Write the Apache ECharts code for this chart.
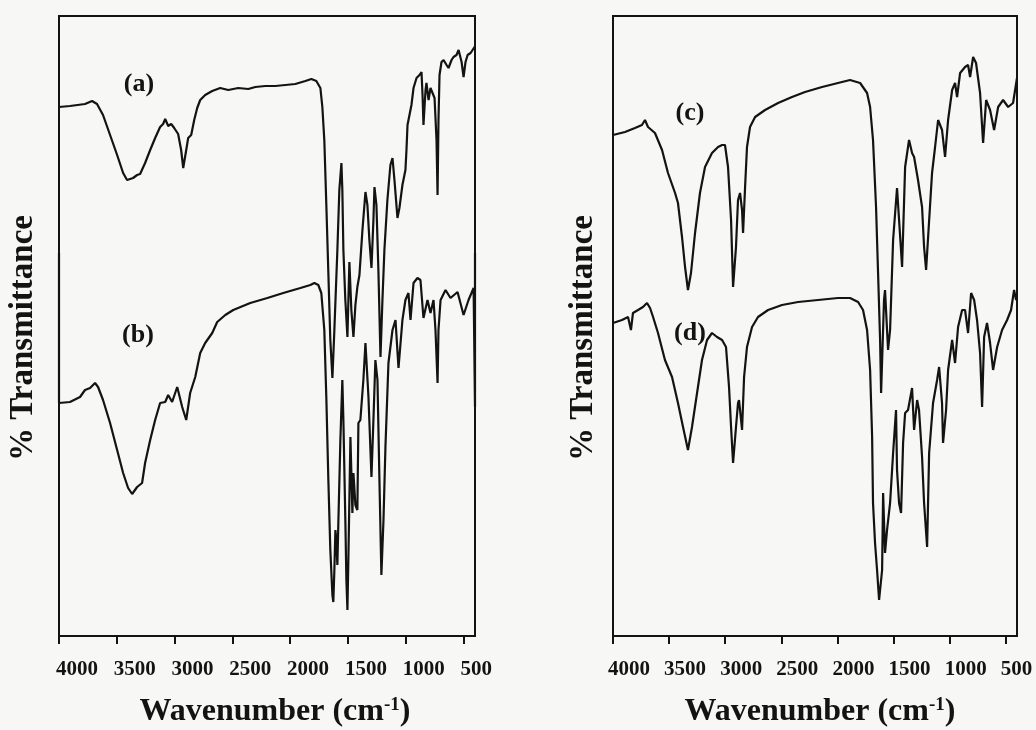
<!DOCTYPE html>
<html>
<head>
<meta charset="utf-8">
<title>FTIR spectra</title>
<script src="https://cdn.jsdelivr.net/npm/echarts@6/dist/echarts.min.js"></script>
<style>
  html, body { margin: 0; padding: 0; background: #f7f7f5; }
  #chart { width: 1036px; height: 730px; }
</style>
</head>
<body>
<div id="chart"></div>
<script>
// Tick positions on the wavenumber axis (cm-1)
const tickValues = [4000, 3500, 3000, 2500, 2000, 1500, 1000, 500];

// Spectra as [wavenumber (cm-1), transmittance (arbitrary units, offset per trace)]
const spectrumA = [
  [4000,529],[3905,530],[3775,532],[3714,535],[3671,532],[3619,521],[3558,501],[3497,481],[3445,463],[3411,456],
  [3359,458],[3324,461],[3298,462],[3255,473],[3211,486],[3168,498],[3125,509],[3099,512],[3081,517],[3055,510],
  [3029,512],[3003,508],[2969,502],[2943,486],[2925,468],[2899,486],[2882,498],[2856,501],[2830,516],[2804,528],
  [2778,536],[2735,541],[2674,545],[2605,548],[2535,546],[2449,548],[2362,547],[2301,549],[2215,550],[2128,550],
  [2041,551],[1955,552],[1868,555],[1816,557],[1773,555],[1738,548],[1721,529],[1704,496],[1686,429],[1669,363],
  [1652,296],[1634,258],[1617,306],[1591,386],[1574,446],[1556,473],[1548,446],[1539,386],[1522,336],[1504,299],
  [1487,374],[1470,326],[1452,299],[1435,331],[1418,349],[1400,361],[1374,406],[1348,444],[1331,431],[1314,396],
  [1296,368],[1279,416],[1270,449],[1253,431],[1236,366],[1218,279],[1201,336],[1184,386],[1158,436],[1132,471],
  [1114,478],[1097,456],[1071,418],[1054,428],[1028,451],[1002,466],[993,486],[984,511],[967,513],[950,531],
  [932,548],[906,558],[880,561],[863,564],[854,541],[846,511],[828,546],[820,553],[802,536],[785,548],
  [768,546],[750,538],[733,496],[724,441],[716,516],[707,561],[690,574],[672,576],[646,571],[629,568],
  [603,576],[586,579],[560,581],[542,586],[516,574],[499,559],[482,574],[464,581],[438,583],[421,586],
  [404,589],[400,590]
];

const spectrumB = [
  [4000,383],[4000,233],[3905,234],[3818,239],[3775,246],[3731,248],[3688,253],[3662,249],[3619,236],[3558,213],
  [3497,186],[3445,163],[3402,148],[3367,142],[3324,149],[3281,153],[3255,173],[3211,196],[3168,216],[3125,233],
  [3081,234],[3055,241],[3021,234],[2977,249],[2934,229],[2899,216],[2865,243],[2821,259],[2778,283],[2735,293],
  [2674,303],[2631,314],[2561,321],[2492,326],[2345,333],[2197,338],[2059,343],[1911,348],[1825,351],[1790,353],
  [1756,351],[1730,343],[1704,306],[1686,236],[1669,156],[1652,86],[1634,41],[1626,34],[1617,66],[1608,106],
  [1600,96],[1591,71],[1582,116],[1565,196],[1548,256],[1539,216],[1522,116],[1513,56],[1504,26],[1496,76],
  [1478,199],[1461,123],[1452,163],[1435,131],[1418,126],[1409,213],[1392,216],[1366,256],[1348,293],[1322,239],
  [1296,159],[1279,216],[1262,276],[1244,256],[1227,156],[1210,61],[1192,116],[1175,189],[1149,273],[1114,306],
  [1088,316],[1062,268],[1028,316],[1002,336],[976,343],[958,316],[932,353],[898,358],[872,356],[846,318],
  [811,336],[785,323],[759,336],[742,306],[724,253],[716,306],[698,336],[655,346],[612,338],[551,344],
  [499,321],[456,336],[412,348],[400,350],[400,229],[400,383]
];

const spectrumC = [
  [4000,501],[3893,504],[3804,508],[3742,511],[3715,516],[3688,509],[3626,503],[3563,486],[3510,463],[3447,443],
  [3421,433],[3385,399],[3358,369],[3332,346],[3305,363],[3269,403],[3225,443],[3180,469],[3118,483],[3064,489],
  [3028,491],[3002,491],[2975,469],[2948,416],[2930,349],[2904,389],[2886,436],[2868,443],[2850,426],[2841,403],
  [2823,449],[2806,489],[2779,509],[2734,519],[2645,526],[2529,533],[2405,539],[2289,544],[2137,549],[1995,553],
  [1888,556],[1798,553],[1736,543],[1709,529],[1683,496],[1656,429],[1638,363],[1620,296],[1611,243],[1585,336],
  [1576,346],[1549,286],[1531,306],[1504,396],[1469,448],[1424,369],[1397,469],[1362,496],[1335,483],[1317,479],
  [1282,456],[1246,429],[1228,389],[1210,366],[1192,399],[1157,463],[1130,489],[1103,516],[1068,506],[1041,479],
  [1014,516],[978,546],[952,553],[934,539],[907,563],[863,569],[836,571],[818,559],[791,579],[765,573],
  [729,543],[702,493],[675,536],[640,526],[604,506],[568,529],[524,536],[479,529],[435,533],[400,558]
];

const spectrumD = [
  [4000,313],[3920,316],[3866,319],[3840,306],[3822,323],[3777,326],[3733,329],[3697,333],[3670,328],[3643,319],
  [3599,303],[3537,276],[3474,259],[3421,233],[3376,209],[3332,186],[3296,209],[3251,243],[3207,276],[3162,296],
  [3118,303],[3073,299],[3028,296],[2993,289],[2966,249],[2948,209],[2930,173],[2904,209],[2886,233],[2877,236],
  [2850,206],[2832,259],[2806,289],[2761,309],[2708,319],[2618,326],[2494,331],[2351,334],[2173,336],[1995,338],
  [1888,338],[1816,334],[1772,326],[1736,306],[1709,266],[1691,199],[1683,133],[1665,93],[1647,66],[1629,36],
  [1602,66],[1593,143],[1576,83],[1558,106],[1531,133],[1504,183],[1478,226],[1469,166],[1451,133],[1433,123],
  [1415,193],[1397,223],[1371,226],[1335,248],[1317,206],[1290,236],[1273,226],[1246,179],[1228,133],[1201,89],
  [1183,183],[1148,233],[1112,256],[1094,269],[1068,233],[1059,193],[1032,226],[1014,266],[978,296],[952,273],
  [925,309],[889,326],[863,326],[836,303],[809,343],[782,336],[756,316],[729,283],[711,229],[693,299],
  [667,313],[640,293],[613,266],[577,289],[533,306],[488,316],[453,326],[426,346],[408,336],[400,338]
];

const panelLabels = ['(a)', '(b)', '(c)', '(d)'];
const xTitle = 'Wavenumber (cm{sup|-1})';
const yTitle = '% Transmittance';

const serif = '"Liberation Serif", "Times New Roman", serif';
const ink = '#131313';

// Tick labels start a few pixels left of their tick: a narrow centred box with left-aligned text
function xAxisFor(gridIndex, titleShift, labelLead) {
  return {
    gridIndex: gridIndex,
    type: 'value',
    inverse: true,
    min: 400,
    max: 4000,
    axisLine: { show: true, onZero: false, lineStyle: { color: ink, width: 2 } },
    axisTick: { show: true, inside: false, length: 8, customValues: tickValues,
                lineStyle: { color: ink, width: 2 } },
    axisLabel: { show: true, customValues: tickValues, margin: 23, align: 'center',
                 color: ink, fontFamily: serif, fontWeight: 'bold', fontSize: 21,
                 formatter: function (v) { return '{t|' + v + '}'; },
                 rich: { t: { width: labelLead * 2, align: 'left', color: ink, fontFamily: serif,
                              fontWeight: 'bold', fontSize: 21 } } },
    splitLine: { show: false },
    name: xTitle,
    nameLocation: 'middle',
    nameGap: 60,
    nameTextStyle: {
      color: ink, fontFamily: serif, fontWeight: 'bold', fontSize: 32,
      padding: [0, 0, 0, titleShift],
      rich: { sup: { color: ink, fontFamily: serif, fontWeight: 'bold', fontSize: 19, verticalAlign: 'top' } }
    }
  };
}

function yAxisFor(gridIndex, gap) {
  return {
    gridIndex: gridIndex,
    type: 'value',
    min: 0,
    max: 620,
    axisLine: { show: false },
    axisTick: { show: false },
    axisLabel: { show: false },
    splitLine: { show: false },
    name: yTitle,
    nameLocation: 'middle',
    nameRotate: 90,
    nameGap: gap,
    nameTextStyle: { color: ink, fontFamily: serif, fontWeight: 'bold', fontSize: 33, padding: [0, 24, 0, 0] }
  };
}

function trace(data, panel) {
  return {
    type: 'line',
    xAxisIndex: panel,
    yAxisIndex: panel,
    data: data,
    symbol: 'none',
    showSymbol: false,
    lineStyle: { color: ink, width: 2.2 },
    emphasis: { disabled: true },
    silent: true
  };
}

function label(text, x, y) {
  return {
    type: 'text', x: x, y: y,
    style: { text: text, fill: ink, font: 'bold 26px ' + serif, textAlign: 'center', textVerticalAlign: 'middle' }
  };
}

const panelGrid = { show: true, borderColor: ink, borderWidth: 2, backgroundColor: 'transparent',
                    containLabel: false, outerBoundsMode: 'none' };

const chart = echarts.init(document.getElementById('chart'), null, { renderer: 'canvas' });
chart.setOption({
  backgroundColor: '#f7f7f5',
  animation: false,
  grid: [
    Object.assign({ left: 59, top: 16, width: 416, height: 620 }, panelGrid),
    Object.assign({ left: 613, top: 16, width: 404, height: 620 }, panelGrid)
  ],
  xAxis: [xAxisFor(0, 16, 3), xAxisFor(1, 10, 5)],
  yAxis: [yAxisFor(0, 19), yAxisFor(1, 13)],
  series: [
    trace(spectrumA, 0),
    trace(spectrumB, 0),
    trace(spectrumC, 1),
    trace(spectrumD, 1)
  ],
  graphic: [
    label(panelLabels[0], 139, 84),
    label(panelLabels[1], 138, 335),
    label(panelLabels[2], 690, 113),
    label(panelLabels[3], 690, 333)
  ]
});
</script>
</body>
</html>
